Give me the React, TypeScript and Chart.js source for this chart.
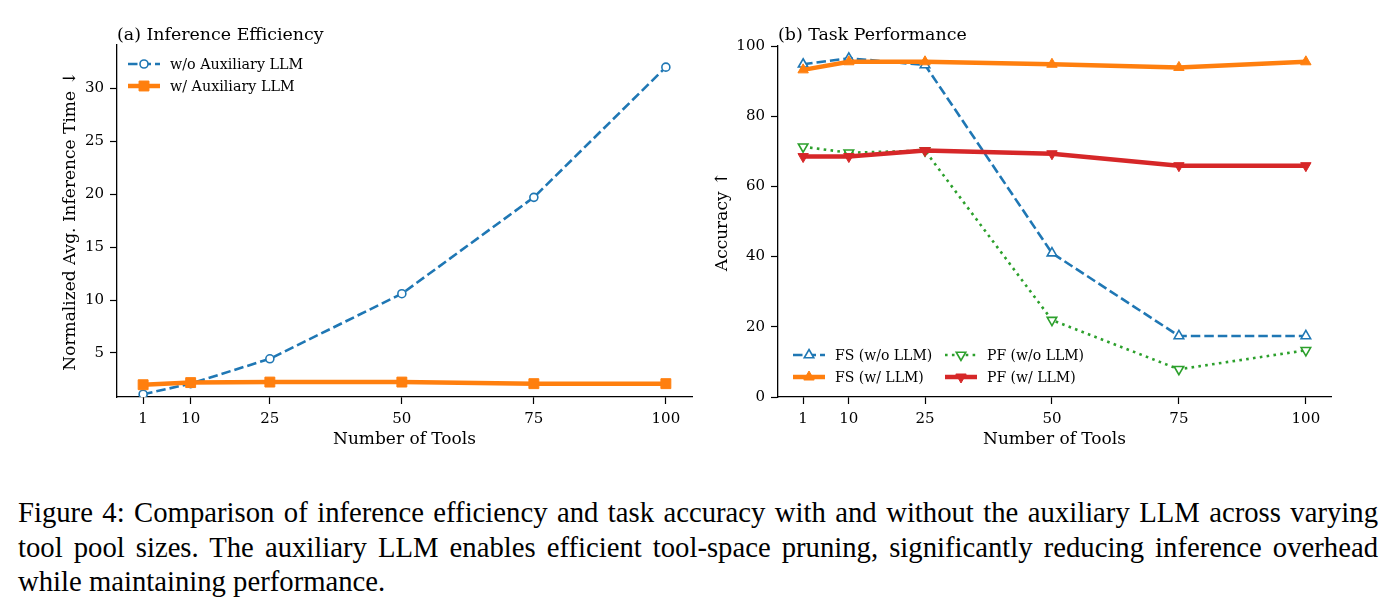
import React, { useEffect, useRef } from "react";
import { Chart, registerables } from "chart.js";
import { drawPoint } from "chart.js/helpers";

Chart.register(...registerables);

// ---------- data ----------
const toolCounts = [1, 10, 25, 50, 75, 100];
const xTickValues = [1, 10, 25, 50, 75, 100];

const timeWithoutAux = [1.1, 2.1, 4.45, 10.6, 19.7, 32.0];
const timeWithAux = [2.0, 2.2, 2.25, 2.25, 2.1, 2.1];
const timeTicks = [5, 10, 15, 20, 25, 30];

const fsWithoutLLM = [94.8, 96.5, 94.6, 41.0, 17.4, 17.4];
const fsWithLLM = [93.2, 95.5, 95.5, 94.8, 93.9, 95.5];
const pfWithoutLLM = [71.3, 69.6, 70.2, 21.9, 7.9, 13.3];
const pfWithLLM = [68.5, 68.5, 70.2, 69.3, 65.9, 65.9];
const accTicks = [0, 20, 40, 60, 80, 100];

const captionLines = [
  "Figure 4: Comparison of inference efficiency and task accuracy with and without the auxiliary LLM across varying",
  "tool pool sizes. The auxiliary LLM enables efficient tool-space pruning, significantly reducing inference overhead",
  "while maintaining performance.",
];

// ---------- style ----------
const BLUE = "#1f77b4";
const ORANGE = "#ff7f0e";
const GREEN = "#2ca02c";
const RED = "#d62728";
const FONT = "'DejaVu Serif', serif";
const AXIS = "#000";

const pts = (ys: number[]) => toolCounts.map((x, i) => ({ x, y: ys[i] }));

const titlePlugin = {
  id: "panelTitle",
  afterDraw(chart: any, _a: any, opts: any) {
    if (!opts || !opts.text) return;
    const { ctx, chartArea } = chart;
    ctx.save();
    ctx.font = `${opts.size}px ${FONT}`;
    ctx.fillStyle = "#000";
    ctx.textBaseline = "alphabetic";
    ctx.textAlign = "left";
    ctx.fillText(opts.text, chartArea.left + (opts.dx || 0), opts.y);
    ctx.restore();
  },
};

const legendPlugin = {
  id: "innerLegend",
  afterDraw(chart: any, _a: any, opts: any) {
    if (!opts || !opts.items) return;
    const { ctx } = chart;
    const sampleLen = opts.sampleLen;
    opts.items.forEach((it: any) => {
      const ds = chart.data.datasets[it.index];
      const x = it.x;
      const y = it.y;
      ctx.save();
      ctx.strokeStyle = ds.borderColor;
      ctx.lineWidth = ds.borderWidth;
      ctx.lineCap = "butt";
      ctx.setLineDash(ds.borderDash || []);
      ctx.beginPath();
      ctx.moveTo(x, y);
      ctx.lineTo(x + sampleLen, y);
      ctx.stroke();
      ctx.setLineDash([]);
      ctx.fillStyle = ds.pointBackgroundColor;
      ctx.strokeStyle = ds.pointBorderColor;
      ctx.lineWidth = ds.pointBorderWidth;
      drawPoint(
        ctx,
        {
          pointStyle: ds.pointStyle,
          radius: ds.pointRadius,
          rotation: ds.pointRotation || 0,
          borderWidth: ds.pointBorderWidth,
        },
        x + sampleLen / 2,
        y
      );
      ctx.fillStyle = "#000";
      ctx.font = `${opts.size}px ${FONT}`;
      ctx.textBaseline = "middle";
      ctx.textAlign = "left";
      ctx.fillText(ds.label, x + sampleLen + opts.gap, y + 1);
      ctx.restore();
    });
  },
};

function makeScales(o: any) {
  return {
    x: {
      type: "linear",
      min: -3.95,
      max: 104.95,
      afterBuildTicks: (s: any) => {
        s.ticks = xTickValues.map((v) => ({ value: v }));
      },
      afterFit: (s: any) => {
        s.height = o.xHeight;
      },
      ticks: {
        font: { family: FONT, size: 15 },
        color: "#000",
        padding: 6,
        maxRotation: 0,
        autoSkip: false,
        callback: (v: any) => String(v),
      },
      grid: {
        display: true,
        drawOnChartArea: false,
        drawTicks: true,
        tickLength: 7,
        tickColor: AXIS,
        tickWidth: 1.2,
      },
      border: { display: true, color: AXIS, width: 1.3 },
      title: {
        display: true,
        text: "Number of Tools",
        font: { family: FONT, size: 17 },
        color: "#000",
        padding: { top: 0, bottom: o.xTitlePad },
      },
    },
    y: {
      type: "linear",
      min: o.yMin,
      max: o.yMax,
      afterBuildTicks: (s: any) => {
        s.ticks = o.yTicks.map((v: number) => ({ value: v }));
      },
      afterFit: (s: any) => {
        s.width = o.yWidth;
      },
      ticks: {
        font: { family: FONT, size: 15 },
        color: "#000",
        padding: 6,
        callback: (v: any) => String(v),
      },
      grid: {
        display: true,
        drawOnChartArea: false,
        drawTicks: true,
        tickLength: 7,
        tickColor: AXIS,
        tickWidth: 1.2,
      },
      border: { display: true, color: AXIS, width: 1.3 },
      title: {
        display: true,
        text: o.yTitle,
        font: { family: FONT, size: 17 },
        color: "#000",
        padding: { top: o.yTitlePad, bottom: 0 },
      },
    },
  };
}

function useChart(ref: any, config: any) {
  useEffect(() => {
    const chart = new Chart(ref.current, config);
    return () => chart.destroy();
  }, []);
}

function LeftChart() {
  const ref = useRef<HTMLCanvasElement>(null);
  useChart(ref, {
    type: "line",
    data: {
      datasets: [
        {
          label: "w/o Auxiliary LLM",
          data: pts(timeWithoutAux),
          borderColor: BLUE,
          borderWidth: 2.6,
          borderDash: [9.5, 4],
          pointStyle: "circle",
          pointRadius: 4,
          pointBorderWidth: 1.6,
          pointBackgroundColor: "#fff",
          pointBorderColor: BLUE,
          order: 2,
        },
        {
          label: "w/ Auxiliary LLM",
          data: pts(timeWithAux),
          borderColor: ORANGE,
          borderWidth: 4.5,
          pointStyle: "rect",
          pointRadius: 7,
          pointBorderWidth: 1,
          pointBackgroundColor: ORANGE,
          pointBorderColor: ORANGE,
          order: 1,
        },
      ],
    },
    options: {
      animation: false,
      responsive: false,
      events: [],
      layout: { padding: { left: 0, top: 45, right: 5, bottom: 0 } },
      scales: makeScales({
        yMin: 0.84,
        yMax: 34.09,
        yTicks: timeTicks,
        yWidth: 117,
        xHeight: 73,
        yTitle: "Normalized Avg. Inference Time ↓",
        yTitlePad: 60,
        xTitlePad: 20,
      }),
      plugins: {
        legend: { display: false },
        tooltip: { enabled: false },
        panelTitle: { text: "(a) Inference Efficiency", size: 17.4, y: 40, dx: 0 },
        innerLegend: {
          size: 14.3,
          sampleLen: 32,
          gap: 10,
          items: [
            { index: 0, x: 128, y: 64 },
            { index: 1, x: 128, y: 86 },
          ],
        },
      },
    },
    plugins: [titlePlugin, legendPlugin],
  });
  return <canvas ref={ref} width={700} height={470} style={{ position: "absolute", left: 0, top: 0 }} />;
}

function RightChart() {
  const ref = useRef<HTMLCanvasElement>(null);
  useChart(ref, {
    type: "line",
    data: {
      datasets: [
        {
          label: "FS (w/o LLM)",
          data: pts(fsWithoutLLM),
          borderColor: BLUE,
          borderWidth: 2.6,
          borderDash: [9.5, 4],
          pointStyle: "triangle",
          pointRadius: 5.5,
          pointBorderWidth: 1.6,
          pointBackgroundColor: "#fff",
          pointBorderColor: BLUE,
          order: 3,
        },
        {
          label: "FS (w/ LLM)",
          data: pts(fsWithLLM),
          borderColor: ORANGE,
          borderWidth: 4.5,
          pointStyle: "triangle",
          pointRadius: 6,
          pointBorderWidth: 1,
          pointBackgroundColor: ORANGE,
          pointBorderColor: ORANGE,
          order: 1,
        },
        {
          label: "PF (w/o LLM)",
          data: pts(pfWithoutLLM),
          borderColor: GREEN,
          borderWidth: 2.6,
          borderDash: [2.6, 4.3],
          pointStyle: "triangle",
          pointRotation: 180,
          pointRadius: 5.5,
          pointBorderWidth: 1.6,
          pointBackgroundColor: "#fff",
          pointBorderColor: GREEN,
          order: 4,
        },
        {
          label: "PF (w/ LLM)",
          data: pts(pfWithLLM),
          borderColor: RED,
          borderWidth: 4.5,
          pointStyle: "triangle",
          pointRotation: 180,
          pointRadius: 6,
          pointBorderWidth: 1,
          pointBackgroundColor: RED,
          pointBorderColor: RED,
          order: 2,
        },
      ],
    },
    options: {
      animation: false,
      responsive: false,
      events: [],
      layout: { padding: { left: 0, top: 46, right: 62, bottom: 0 } },
      scales: makeScales({
        yMin: 0,
        yMax: 100,
        yTicks: accTicks,
        yWidth: 78,
        xHeight: 73,
        yTitle: "Accuracy ↑",
        yTitlePad: 12,
        xTitlePad: 20,
      }),
      plugins: {
        legend: { display: false },
        tooltip: { enabled: false },
        panelTitle: { text: "(b) Task Performance", size: 17.4, y: 40, dx: 0 },
        innerLegend: {
          size: 14,
          sampleLen: 32,
          gap: 10,
          items: [
            { index: 0, x: 93, y: 355 },
            { index: 1, x: 93, y: 377 },
            { index: 2, x: 245, y: 355 },
            { index: 3, x: 245, y: 377 },
          ],
        },
      },
    },
    plugins: [titlePlugin, legendPlugin],
  });
  return <canvas ref={ref} width={693} height={470} style={{ position: "absolute", left: 700, top: 0 }} />;
}

export default function App() {
  return (
    <div style={{ position: "absolute", left: 0, top: 0, width: 1393, height: 615, background: "#fff", overflow: "hidden" }}>
      <LeftChart />
      <RightChart />
      {captionLines.map((line, i) => (
        <div
          key={i}
          style={{
            position: "absolute",
            left: 18,
            top: 495.2 + i * 34.5,
            width: 1360,
            fontFamily: "'Liberation Serif', 'Times New Roman', serif",
            fontSize: 28.7,
            lineHeight: "35px",
            whiteSpace: "nowrap",
            textAlign: i < captionLines.length - 1 ? "justify" : "left",
            textAlignLast: i < captionLines.length - 1 ? "justify" : "left",
            color: "#000",
          } as any}
        >
          {line}
        </div>
      ))}
    </div>
  );
}
